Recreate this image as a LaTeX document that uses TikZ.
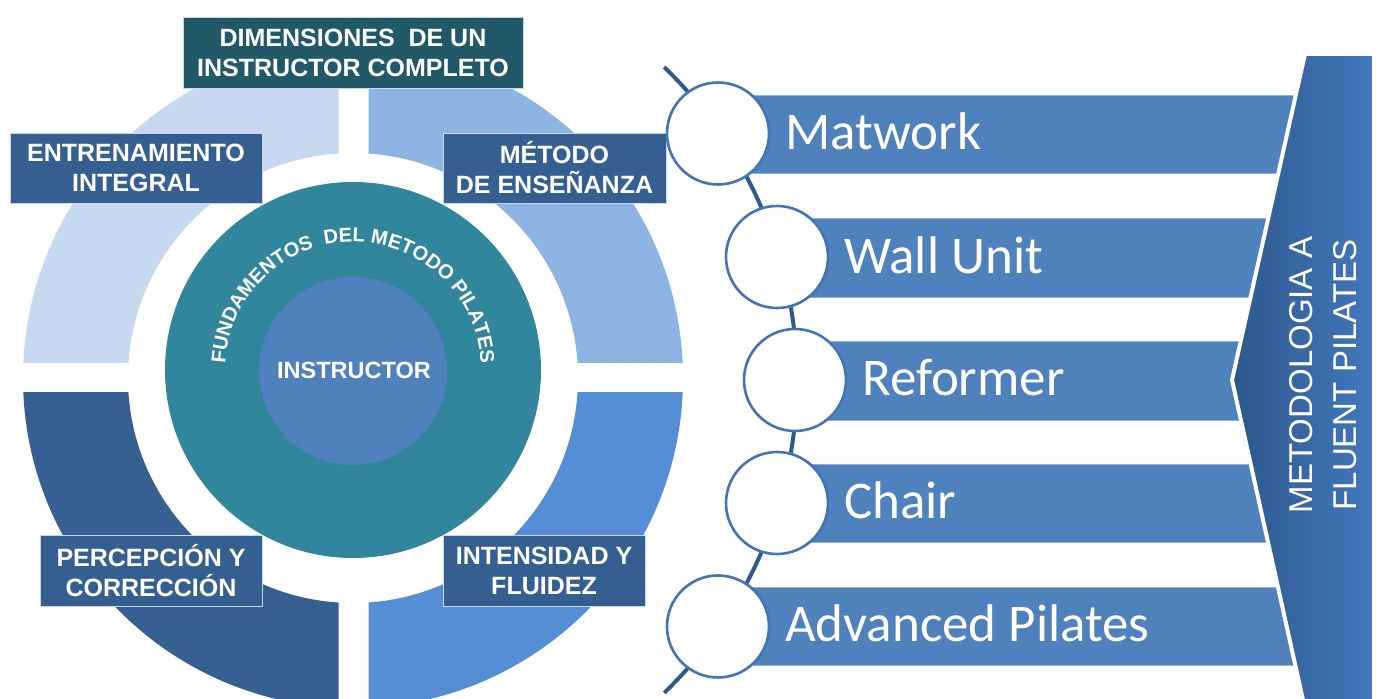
\documentclass[tikz,border=0pt]{standalone}
\usepackage{fontspec}
\setmainfont{Liberation Sans}
\newfontfamily\calib{Carlito}
\usetikzlibrary{decorations.text,calc}
\definecolor{titlec}{HTML}{215968}
\definecolor{labelc}{HTML}{365F91}
\definecolor{ringTL}{HTML}{C6D9F1}
\definecolor{ringTR}{HTML}{8EB4E3}
\definecolor{ringBL}{HTML}{366092}
\definecolor{ringBR}{HTML}{558ED5}
\definecolor{tealc}{HTML}{31859C}
\definecolor{corec}{HTML}{4F81BD}
\definecolor{barc}{HTML}{4F81BD}
\definecolor{barline}{HTML}{8FB0DA}
\definecolor{circline}{HTML}{4274B6}
\definecolor{connc}{HTML}{2E5A8E}
\definecolor{chevL}{HTML}{2D588B}
\definecolor{chevR}{HTML}{4378BE}
\definecolor{boxline}{HTML}{C8D7EB}
\begin{document}
\begin{tikzpicture}[x=1pt,y=1pt,
  labelbox/.style={fill=labelc, draw=boxline, line width=0.8pt, text=white, align=center, inner sep=0pt,
    font=\fontsize{25}{30}\selectfont\bfseries},
  titlebox/.style={labelbox, fill=titlec},
  listbar/.style={fill=barc, draw=barline, line width=0.8pt},
  listcirc/.style={circle, fill=white, draw=circline, line width=2.6pt, minimum size=102pt, inner sep=0pt},
  listtext/.style={anchor=base west, text=white, inner sep=0pt, font=\calib\fontsize{53}{60}\selectfont}
]
\useasboundingbox (0,0) rectangle (1377,699);
\fill[white] (0,0) rectangle (1377,699);

% ---- ring quadrants ----
\begin{scope}
  \clip (0,336) rectangle (338.5,699);
  \fill[ringTL, even odd rule] (353,321) circle[radius=330pt] (353,321) circle[radius=225pt];
\end{scope}
\begin{scope}
  \clip (368.5,336) rectangle (700,699);
  \fill[ringTR, even odd rule] (353,321) circle[radius=330pt] (353,321) circle[radius=225pt];
\end{scope}
\begin{scope}
  \clip (0,0) rectangle (338.5,306);
  \fill[ringBL, even odd rule] (353,321) circle[radius=330pt] (353,321) circle[radius=225pt];
\end{scope}
\begin{scope}
  \clip (368.5,0) rectangle (700,306);
  \fill[ringBR, even odd rule] (353,321) circle[radius=330pt] (353,321) circle[radius=225pt];
\end{scope}

% ---- central circles ----
\node[circle, fill=tealc, minimum size=376pt, inner sep=0pt] (fund) at (353,329) {};
\node[circle, fill=corec, minimum size=188pt, inner sep=0pt] (core) at (353,328) {};
\path[decorate, decoration={text along path, text align=center, text color=white,
  text={|\fontsize{20}{20}\selectfont\bfseries|FUNDAMENTOS{\ }{\ }DEL METODO PILATES}}]
  (225,329) arc[start angle=180, end angle=0, radius=128pt];
\node[text=white, font=\fontsize{23.5}{26}\selectfont\bfseries, inner sep=0pt] (instr) at (354,328.5) {INSTRUCTOR};

% ---- label boxes ----
\node[titlebox, minimum width=340pt, minimum height=71pt] (dim) at (353,646.5) {DIMENSIONES\ \ DE UN\\INSTRUCTOR COMPLETO};
\node[labelbox, minimum width=252pt, minimum height=70pt] (ent) at (136,531) {ENTRENAMIENTO\\INTEGRAL};
\node[labelbox, minimum width=223pt, minimum height=70pt] (met) at (554.5,531) {MÉTODO\\DE ENSEÑANZA};
\node[labelbox, minimum width=222pt, minimum height=71pt] (per) at (151,128.5) {PERCEPCIÓN Y\\CORRECCIÓN};
\node[labelbox, minimum width=202pt, minimum height=71pt] (int) at (544,128.5) {INTENSIDAD Y\\FLUIDEZ};

% ---- right list ----
\coordinate (ctop) at ($(362,319)+(46:435)$);
\draw[connc, line width=4pt] (ctop) arc[start angle=46, end angle=-46, radius=435pt];

\fill[listbar] (718,526) rectangle (1320,604);
\fill[listbar] (777,402) rectangle (1320,481);
\fill[listbar] (795,279) rectangle (1320,358);
\fill[listbar] (777,157) rectangle (1320,235);
\fill[listbar] (718,34) rectangle (1320,112);
\draw[barline, line width=0.8pt] (718,526) rectangle (1320,604);
\draw[barline, line width=0.8pt] (777,402) rectangle (1320,481);
\draw[barline, line width=0.8pt] (795,279) rectangle (1320,358);
\draw[barline, line width=0.8pt] (777,157) rectangle (1320,235);
\draw[barline, line width=0.8pt] (718,34) rectangle (1320,112);

\node[listcirc] (c1) at (718,565.5) {};
\node[listcirc] (c2) at (777,442) {};
\node[listcirc] (c3) at (795,319) {};
\node[listcirc] (c4) at (777,196) {};
\node[listcirc] (c5) at (718,72.5) {};

\node[listtext] (t1) at (785,549) {Matwork};
\node[listtext] (t2) at (844,425.5) {Wall Unit};
\node[listtext] (t3) at (862,303) {Reformer};
\node[listtext] (t4) at (844,180) {Chair};
\node[listtext] (t5) at (785,57) {Advanced Pilates};

% ---- chevron ----
\path[left color=chevL, right color=chevR, draw=white, line width=4pt]
  (1305,645) -- (1374,645) -- (1374,-10) -- (1305,-10) -- (1232,319) -- cycle;
\node[rotate=90, text=white, align=center, inner sep=0pt, font=\fontsize{33}{44}\selectfont] (meto) at (1323,324) {METODOLOGIA A\\FLUENT PILATES};
\end{tikzpicture}
\end{document}
